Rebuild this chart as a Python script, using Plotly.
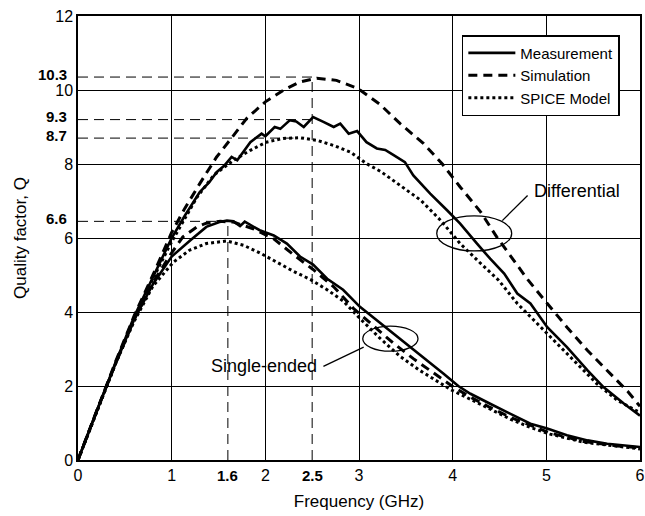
import plotly.graph_objects as go

# ---------------- data ----------------
diff_sim_f = [0, 0.2, 0.4, 0.6, 0.8, 1.0, 1.14, 1.3, 1.48, 1.62, 1.8, 2.0, 2.19, 2.37, 2.55, 2.76, 2.99,
              3.22, 3.44, 3.69, 3.89, 4.08, 4.30, 4.47, 4.65, 4.80, 5.01, 5.22, 5.44, 5.65, 5.87, 6.0]
diff_sim_q = [0, 1.33, 2.65, 3.9, 5.0, 6.15, 6.8, 7.47, 8.19, 8.64, 9.23, 9.68, 9.99, 10.22, 10.32, 10.26, 10.04,
              9.62, 9.09, 8.55, 8.0, 7.38, 6.70, 6.03, 5.40, 4.88, 4.23, 3.59, 2.96, 2.42, 1.85, 1.45]

diff_meas_f = [0, 0.2, 0.4, 0.6, 0.8, 1.0, 1.14, 1.30, 1.40, 1.48, 1.56, 1.64, 1.70, 1.84, 1.96, 2.0, 2.10, 2.16,
               2.26, 2.33, 2.41, 2.51, 2.62, 2.73, 2.80, 2.89, 2.98, 3.08, 3.19, 3.28, 3.37, 3.49, 3.58, 3.76,
               3.94, 4.08, 4.26, 4.40, 4.55, 4.69, 4.83, 5.01, 5.22, 5.44, 5.61, 5.83, 6.0]
diff_meas_q = [0, 1.33, 2.63, 3.88, 4.95, 6.0, 6.6, 7.24, 7.5, 7.78, 7.95, 8.19, 8.1, 8.59, 8.82, 8.75, 9.0, 8.95,
               9.18, 9.15, 9.0, 9.27, 9.14, 9.0, 9.09, 8.82, 8.89, 8.59, 8.42, 8.38, 8.24, 8.05, 7.69, 7.2,
               6.75, 6.39, 5.85, 5.44, 5.04, 4.5, 4.23, 3.59, 3.05, 2.42, 1.97, 1.52, 1.2]

diff_spice_f = [0, 0.2, 0.4, 0.6, 0.8, 1.0, 1.27, 1.45, 1.66, 1.84, 2.01, 2.19, 2.37, 2.55, 2.73, 2.91, 3.08,
                3.23, 3.44, 3.66, 3.87, 4.08, 4.30, 4.49, 4.69, 4.90, 5.12, 5.33, 5.54, 5.76, 6.0]
diff_spice_q = [0, 1.32, 2.6, 3.82, 4.9, 5.9, 7.1, 7.7, 8.1, 8.37, 8.59, 8.69, 8.71, 8.64, 8.5, 8.32, 8.01,
                7.8, 7.42, 7.02, 6.48, 5.85, 5.31, 4.86, 4.23, 3.69, 3.15, 2.6, 2.06, 1.61, 1.28]

se_meas_f = [0, 0.2, 0.4, 0.6, 0.8, 1.0, 1.2, 1.37, 1.51, 1.59, 1.66, 1.73, 1.78, 1.94, 2.09, 2.23, 2.37,
             2.51, 2.66, 2.83, 3.01, 3.19, 3.37, 3.55, 3.73, 3.90, 4.06, 4.19, 4.40, 4.62, 4.83, 5.01, 5.22,
             5.44, 5.65, 6.0]
se_meas_q = [0, 1.33, 2.6, 3.8, 4.75, 5.5, 5.94, 6.3, 6.43, 6.47, 6.45, 6.32, 6.44, 6.21, 6.07, 5.85, 5.5,
             5.28, 4.9, 4.6, 4.14, 3.78, 3.42, 3.05, 2.69, 2.34, 2.0, 1.79, 1.52, 1.25, 0.98, 0.85, 0.67,
             0.53, 0.44, 0.35]

se_sim_f = [0, 0.2, 0.4, 0.6, 0.8, 1.0, 1.12, 1.27, 1.37, 1.52, 1.66, 1.87, 2.09, 2.30, 2.51, 2.73, 2.94,
            3.16, 3.37, 3.58, 3.80, 4.01, 4.19, 4.40, 4.62, 4.83, 5.04, 5.40, 5.76, 6.0]
se_sim_q = [0, 1.33, 2.6, 3.8, 4.8, 5.6, 6.03, 6.3, 6.4, 6.45, 6.43, 6.25, 5.98, 5.55, 5.15, 4.68, 4.1,
            3.6, 3.15, 2.74, 2.34, 1.97, 1.7, 1.42, 1.15, 0.93, 0.73, 0.5, 0.38, 0.33]

se_spice_f = [0, 0.2, 0.4, 0.6, 0.8, 1.02, 1.19, 1.37, 1.59, 1.77, 1.94, 2.12, 2.30, 2.48, 2.66, 2.83, 3.0,
              3.22, 3.44, 3.65, 3.87, 3.98, 4.19, 4.40, 4.62, 4.83, 5.04, 5.40, 5.76, 6.0]
se_spice_q = [0, 1.32, 2.6, 3.75, 4.7, 5.35, 5.67, 5.85, 5.92, 5.8, 5.6, 5.35, 5.1, 4.88, 4.6, 4.3, 3.85,
              3.3, 2.8, 2.42, 2.06, 1.9, 1.64, 1.37, 1.1, 0.88, 0.7, 0.48, 0.36, 0.3]

x_ticks = [0, 1, 2, 3, 4, 5, 6]
y_ticks = [0, 2, 4, 6, 8, 10, 12]
peak_f_labels = [1.6, 2.5]
peak_q_values = [10.35, 9.2, 8.7, 6.45]
peak_q_labels = ["10.3", "9.3", "8.7", "6.6"]

# ---------------- figure ----------------
FONT = "Liberation Sans, Arial, Helvetica, sans-serif"
fig = go.Figure()

styles = {
    "Measurement": dict(color="black", width=2.6, dash="solid"),
    "Simulation": dict(color="black", width=3, dash="9px,6px"),
    "SPICE Model": dict(color="black", width=3, dash="3px,3px"),
}

# dashed guide lines
guide = dict(color="black", width=1, dash="10px,6px")
h_ends = [2.5, 2.5, 2.3, 1.6]
for q, xe in zip(peak_q_values, h_ends):
    fig.add_trace(go.Scatter(x=[0, xe], y=[q, q], mode="lines", line=guide,
                             showlegend=False, hoverinfo="skip"))
v_tops = [6.45, 10.35]
for f, yt in zip(peak_f_labels, v_tops):
    fig.add_trace(go.Scatter(x=[f, f], y=[0, yt], mode="lines", line=guide,
                             showlegend=False, hoverinfo="skip"))

pairs = [
    (diff_meas_f, diff_meas_q, se_meas_f, se_meas_q, "Measurement"),
    (diff_sim_f, diff_sim_q, se_sim_f, se_sim_q, "Simulation"),
    (diff_spice_f, diff_spice_q, se_spice_f, se_spice_q, "SPICE Model"),
]
for df, dq, sf, sq, name in pairs:
    fig.add_trace(go.Scatter(x=df, y=dq, mode="lines", line=styles[name], name=name,
                             legendgroup=name, showlegend=True))
    fig.add_trace(go.Scatter(x=sf, y=sq, mode="lines", line=styles[name], name=name,
                             legendgroup=name, showlegend=False))

# ellipses and pointer lines
fig.add_shape(type="circle", xref="x", yref="y", x0=3.83, x1=4.63, y0=5.65, y1=6.6,
              line=dict(color="black", width=1.3))
fig.add_shape(type="circle", xref="x", yref="y", x0=3.04, x1=3.63, y0=2.94, y1=3.62,
              line=dict(color="black", width=1.3))
fig.add_shape(type="line", xref="x", yref="y", x0=4.53, y0=6.47, x1=4.80, y1=7.15,
              line=dict(color="black", width=1.3))
fig.add_shape(type="line", xref="x", yref="y", x0=2.62, y0=2.53, x1=3.05, y1=3.05,
              line=dict(color="black", width=1.3))

fig.add_annotation(x=4.85, y=7.28, xref="x", yref="y", text="Differential", showarrow=False,
                   xanchor="left", yanchor="middle", font=dict(family=FONT, size=18, color="black"))
fig.add_annotation(x=2.57, y=2.53, xref="x", yref="y", text="Single-ended", showarrow=False,
                   xanchor="right", yanchor="middle", font=dict(family=FONT, size=18, color="black"))

# bold extra tick labels
for f in peak_f_labels:
    fig.add_annotation(x=f, y=0, xref="paper" if False else "x", yref="paper", text=f"<b>{f}</b>",
                       showarrow=False, yanchor="top", yshift=-5,
                       font=dict(family=FONT, size=15, color="black"))
for q, lab in zip(peak_q_values, peak_q_labels):
    fig.add_annotation(x=0, y=q, xref="paper", yref="y", text=f"<b>{lab}</b>", showarrow=False,
                       xanchor="right", xshift=-9, yshift=3,
                       font=dict(family=FONT, size=15, color="black"))

fig.update_layout(
    width=645, height=516,
    margin=dict(l=78, r=5, t=16, b=56),
    paper_bgcolor="white", plot_bgcolor="white",
    font=dict(family=FONT, size=16, color="black"),
    showlegend=True,
    legend=dict(x=0.683, y=0.957, xanchor="left", yanchor="top",
                bgcolor="white", bordercolor="black", borderwidth=1.5,
                font=dict(family=FONT, size=15, color="black"),
                itemwidth=47, tracegroupgap=0),
    xaxis=dict(range=[0, 6], tickvals=x_ticks, ticktext=[str(v) for v in x_ticks],
               showgrid=True, gridcolor="black", gridwidth=1, zeroline=False, automargin=False,
               showline=True, linecolor="black", linewidth=1.5, mirror=True, ticks="",
               title=dict(text="Frequency (GHz)", font=dict(size=17), standoff=12),
               tickfont=dict(size=16)),
    yaxis=dict(range=[0, 12], tickvals=y_ticks, ticktext=[str(v) for v in y_ticks],
               showgrid=True, gridcolor="black", gridwidth=1, zeroline=False, automargin=False,
               showline=True, linecolor="black", linewidth=1.5, mirror=True, ticks="",
               title=dict(text="Quality factor, Q", font=dict(size=17), standoff=24),
               tickfont=dict(size=16)),
)

fig.write_html("out.html", config={"displayModeBar": False},
               post_script="document.body.style.margin='0px';document.body.style.overflow='hidden';")
